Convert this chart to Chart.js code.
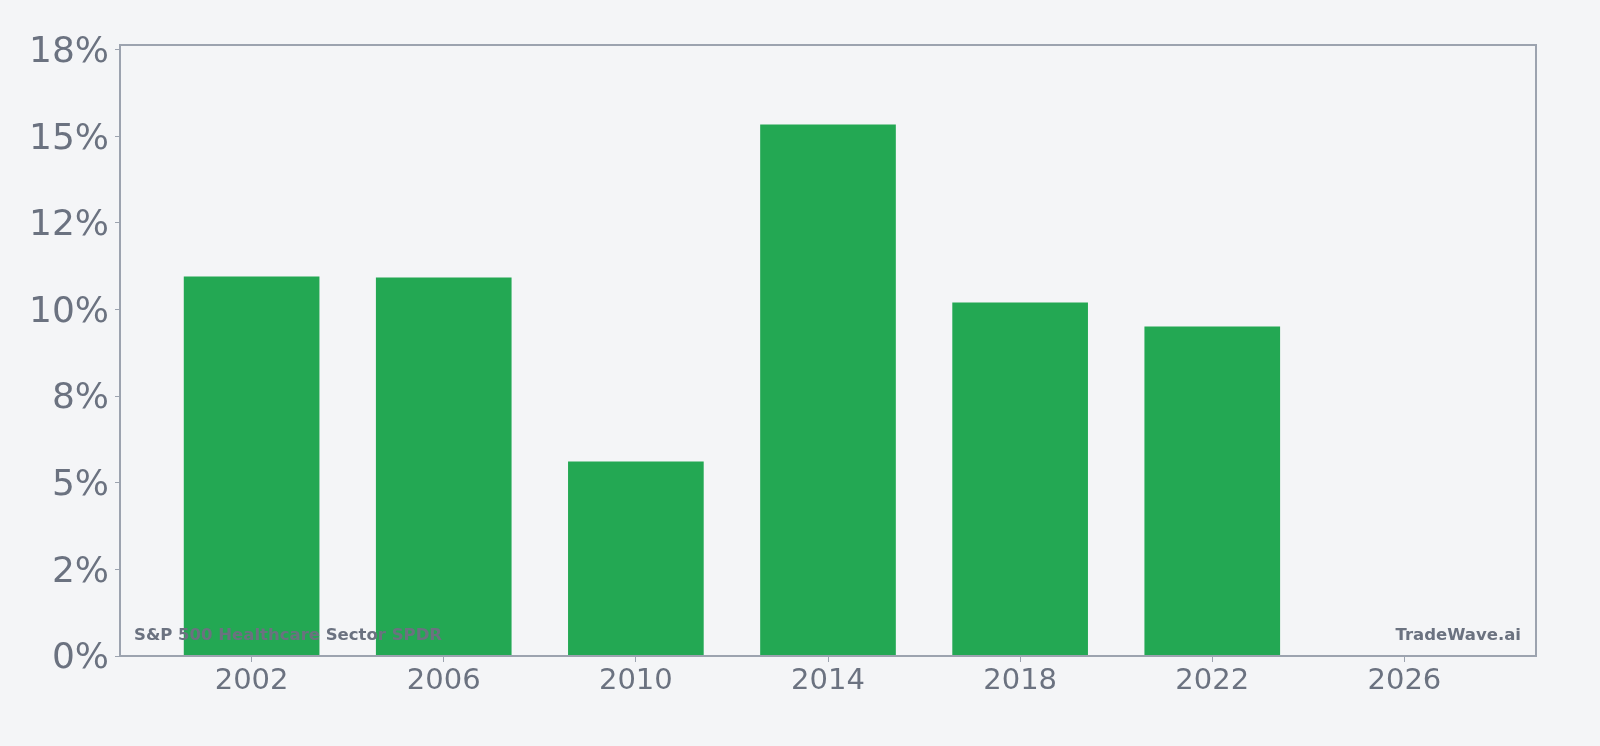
<!DOCTYPE html>
<html>
<head>
<meta charset="utf-8">
<script src="https://cdn.jsdelivr.net/npm/chart.js@4/dist/chart.umd.min.js"></script>
<style>
  html, body { margin: 0; padding: 0; background: #f4f5f7; }
  #wrap { width: 1600px; height: 746px; }
</style>
</head>
<body>
<div id="wrap"><canvas id="returnsCanvas" width="1600" height="746"></canvas></div>
<script>
(function() {
  // annual return by period start year
  const years = [2002, 2006, 2010, 2014, 2018, 2022];
  const returns = [10.94, 10.91, 5.60, 15.33, 10.19, 9.50];
  const xTickYears = [2002, 2006, 2010, 2014, 2018, 2022, 2026];
  const yTickLabels = ['0%', '2%', '5%', '8%', '10%', '12%', '15%', '18%'];

  const textGray = '#6b7280';
  const frameGray = '#9ca3af';

  const frame = {
    id: 'frame',
    afterDatasetsDraw(chart) {
      const { ctx, chartArea: a } = chart;
      ctx.save();
      ctx.font = 'bold 16.5px "DejaVu Sans"';
      ctx.fillStyle = textGray;
      ctx.textBaseline = 'alphabetic';
      ctx.textAlign = 'left';
      ctx.fillText('S&P 500 Healthcare Sector SPDR', a.left + 14, a.bottom - 16);
      ctx.textAlign = 'right';
      ctx.fillText('TradeWave.ai', a.right - 15, a.bottom - 16);
      ctx.strokeStyle = frameGray;
      ctx.lineWidth = 2;
      ctx.strokeRect(a.left, a.top, a.right - a.left, a.bottom - a.top);
      ctx.restore();
    }
  };

  new Chart(document.getElementById('returnsCanvas'), {
    type: 'bar',
    data: {
      datasets: [{
        label: 'Return',
        data: years.map((y, i) => ({ x: y, y: returns[i] })),
        backgroundColor: '#23a853',
        borderWidth: 0,
        barThickness: 135
      }]
    },
    options: {
      responsive: false,
      animation: false,
      layout: { padding: { top: 45, right: 64, bottom: 0, left: 0 } },
      plugins: {
        legend: { display: false },
        tooltip: { enabled: false }
      },
      scales: {
        x: {
          type: 'linear',
          offset: false,
          min: 1999.26,
          max: 2028.74,
          afterBuildTicks: s => { s.ticks = xTickYears.map(v => ({ value: v })); },
          afterFit: s => { s.height = 90; },
          border: { display: false },
          grid: { offset: false, drawOnChartArea: false, drawTicks: true, tickLength: 6, color: frameGray },
          ticks: {
            color: textGray,
            font: { family: 'DejaVu Sans', size: 29 },
            padding: 2,
            maxRotation: 0,
            callback: v => String(v)
          }
        },
        y: {
          min: 0,
          max: 17.63,
          afterFit: s => { s.width = 120; },
          border: { display: false },
          grid: { drawOnChartArea: false, drawTicks: true, tickLength: 5, color: frameGray },
          ticks: {
            stepSize: 2.5,
            includeBounds: false,
            color: textGray,
            font: { family: 'DejaVu Sans', size: 36 },
            padding: 6,
            labelOffset: 3,
            callback: (v, i) => yTickLabels[i]
          }
        }
      }
    },
    plugins: [frame]
  });
})();
</script>
</body>
</html>
